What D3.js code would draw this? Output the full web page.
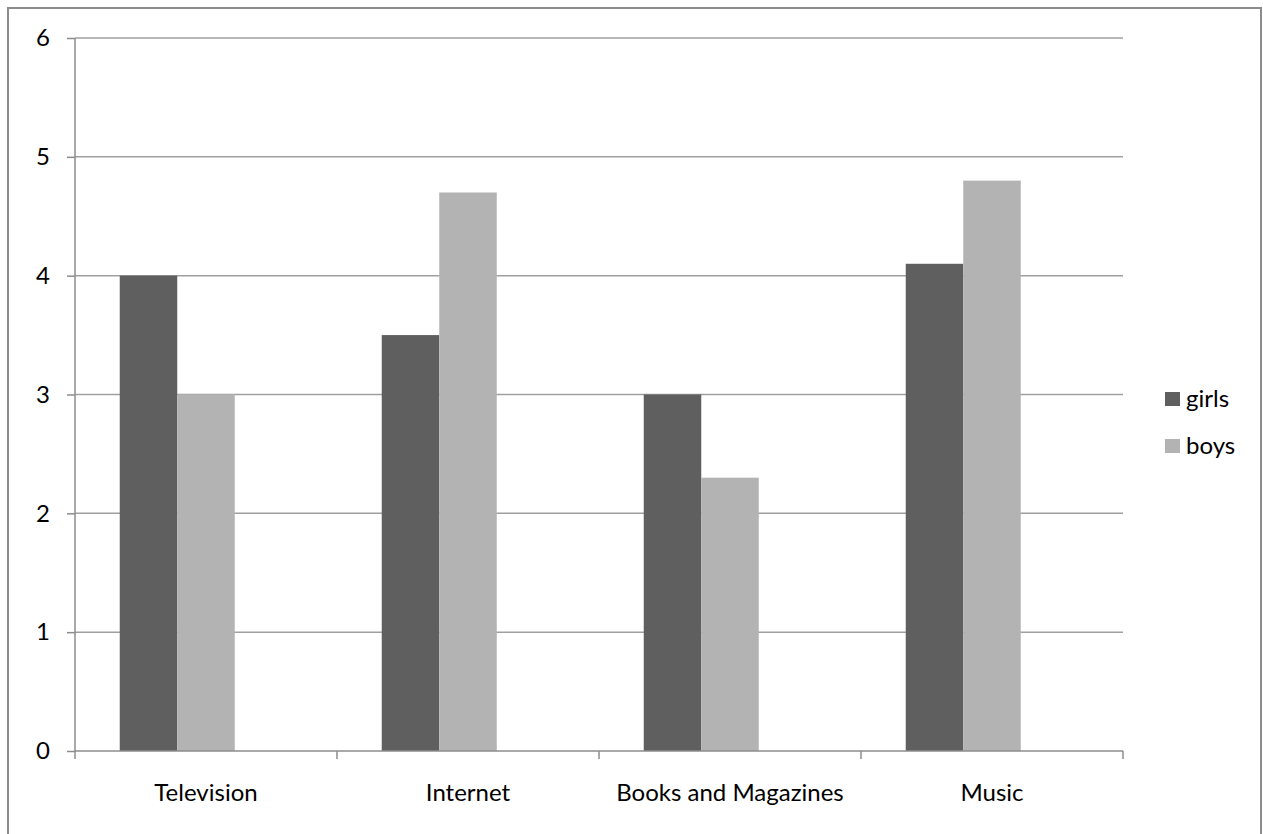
<!DOCTYPE html>
<html>
<head>
<meta charset="utf-8">
<script src="https://cdn.jsdelivr.net/npm/d3@7"></script>
<style>
  body { margin: 0; background: #fff; }
  text { font-family: Lato, "Open Sans", sans-serif; fill: #000; }
</style>
</head>
<body>
<div id="chart"></div>
<script>
// chart data
const categories = ["Television", "Internet", "Books and Magazines", "Music"];
const seriesNames = ["girls", "boys"];
const girls = [4, 3.5, 3, 4.1];
const boys = [3, 4.7, 2.3, 4.8];
const yTicks = [0, 1, 2, 3, 4, 5, 6];
const colors = ["#5f5f5f", "#b3b3b3"];

let width = 1263,
    height = 834,
    margin = { top: 38, right: 140, bottom: 83, left: 75 };

let svg = d3.select("#chart")
    .append("svg")
    .attr("width", width)
    .attr("height", height);

// outer chart frame
svg.append("rect")
    .attr("x", 8).attr("y", 8)
    .attr("width", 1253).attr("height", 840)
    .attr("fill", "none")
    .attr("stroke", "#8c8c8c")
    .attr("stroke-width", 2);

let x0 = d3.scaleBand()
    .domain(categories)
    .range([margin.left, width - margin.right]);

// three slots per group (the third one is empty, like the original)
let x1 = d3.scaleBand()
    .domain([0, 1, 2])
    .range([0, x0.bandwidth()])
    .paddingOuter(0.778);

let y = d3.scaleLinear()
    .domain([0, 6])
    .range([height - margin.bottom, margin.top]);

// gridlines
svg.append("g")
    .selectAll("line")
    .data(yTicks.filter(d => d > 0))
    .enter()
    .append("line")
    .attr("x1", margin.left).attr("x2", width - margin.right)
    .attr("y1", d => y(d)).attr("y2", d => y(d))
    .attr("stroke", "#a0a0a0")
    .attr("stroke-width", 1.5);

// bars
let rows = categories.map((c, i) => ({ cat: c, vals: [girls[i], boys[i]] }));
let groups = svg.append("g")
    .selectAll("g")
    .data(rows)
    .enter()
    .append("g")
    .attr("transform", d => "translate(" + x0(d.cat) + ",0)");

groups.selectAll("rect")
    .data(d => d.vals)
    .enter()
    .append("rect")
    .attr("x", (d, i) => x1(i))
    .attr("y", d => y(d))
    .attr("width", x1.bandwidth())
    .attr("height", d => y(0) - y(d))
    .attr("fill", (d, i) => colors[i]);

// y axis
let yAxis = svg.append("g")
    .attr("transform", "translate(" + margin.left + ",0)")
    .call(d3.axisLeft(y).tickValues(yTicks).tickSize(8).tickPadding(17).tickFormat(d3.format("d")));
yAxis.select(".domain").attr("stroke", "#8c8c8c").attr("stroke-width", 1.5).attr("d", "M0," + y(6) + "V" + y(0));
yAxis.selectAll(".tick line").attr("stroke", "#8c8c8c").attr("stroke-width", 1.5);
yAxis.selectAll("text").attr("font-size", 24).attr("font-family", "Lato, sans-serif");

// x axis
let xAxis = svg.append("g")
    .attr("transform", "translate(0," + y(0) + ")")
    .call(d3.axisBottom(x0).tickSize(0).tickPadding(33));
xAxis.select(".domain").attr("stroke", "#8c8c8c").attr("stroke-width", 1.5)
    .attr("d", "M" + margin.left + ",0H" + (width - margin.right));
xAxis.selectAll("text").attr("font-size", 24).attr("font-family", "Lato, sans-serif");

// category boundary ticks
let bounds = categories.map(c => x0(c)).concat([x0(categories[categories.length - 1]) + x0.bandwidth()]);
svg.append("g")
    .selectAll("line")
    .data(bounds)
    .enter()
    .append("line")
    .attr("x1", d => d).attr("x2", d => d)
    .attr("y1", y(0)).attr("y2", y(0) + 8)
    .attr("stroke", "#8c8c8c")
    .attr("stroke-width", 1.5);

// legend
let legend = svg.append("g")
    .selectAll("g")
    .data(seriesNames)
    .enter()
    .append("g")
    .attr("transform", (d, i) => "translate(1165," + (392 + i * 47) + ")");
legend.append("rect")
    .attr("width", 15).attr("height", 14)
    .attr("fill", (d, i) => colors[i]);
legend.append("text")
    .attr("x", 21).attr("y", 15)
    .attr("font-size", 24)
    .text(d => d);
</script>
</body>
</html>
